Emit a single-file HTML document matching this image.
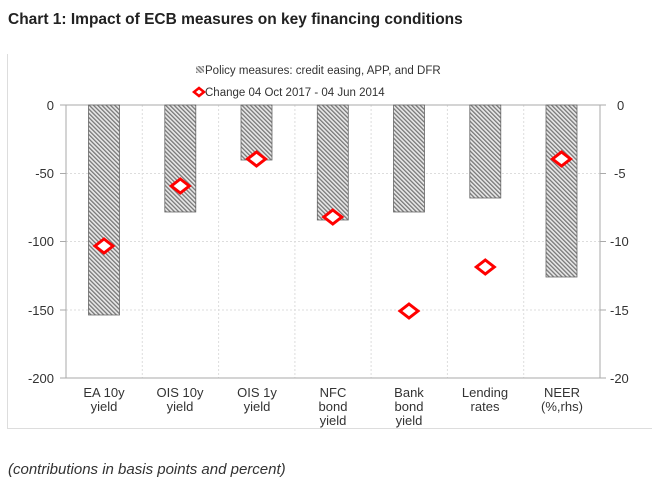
<!DOCTYPE html>
<html><head><style>
body{margin:0;background:#fff;width:652px;height:484px;overflow:hidden;font-family:"Liberation Sans",sans-serif}
</style></head><body>
<svg width="652" height="484" xmlns="http://www.w3.org/2000/svg" font-family="Liberation Sans, sans-serif">
<defs>
<pattern id="h" width="3" height="3" patternUnits="userSpaceOnUse" patternTransform="rotate(-45)">
<rect width="3" height="3" fill="#e8e8e8"/><rect width="1.3" height="3" fill="#777"/>
</pattern>
</defs>
<text x="8" y="24" font-size="15.5" font-weight="bold" fill="#222">Chart 1: Impact of ECB measures on key financing conditions</text>
<line x1="7.5" y1="54" x2="7.5" y2="428" stroke="#ddd"/>
<line x1="7" y1="428.5" x2="652" y2="428.5" stroke="#ddd"/>
<rect x="196" y="66" width="8" height="7" fill="url(#h)"/>
<text x="205" y="74" font-size="11.5" fill="#333">Policy measures: credit easing, APP, and DFR</text>
<polygon points="199,88 204,92 199,96 194,92" fill="#fff" stroke="red" stroke-width="2.5"/>
<text x="205" y="96" font-size="11.5" fill="#333">Change 04 Oct 2017 - 04 Jun 2014</text>
<g stroke="#ddd" stroke-dasharray="2,2">
<line x1="66" y1="173.5" x2="600" y2="173.5"/><line x1="66" y1="241.5" x2="600" y2="241.5"/><line x1="66" y1="310" x2="600" y2="310"/>
<line x1="142.3" y1="105" x2="142.3" y2="378"/><line x1="218.6" y1="105" x2="218.6" y2="378"/><line x1="294.9" y1="105" x2="294.9" y2="378"/><line x1="371.1" y1="105" x2="371.1" y2="378"/><line x1="447.4" y1="105" x2="447.4" y2="378"/><line x1="523.7" y1="105" x2="523.7" y2="378"/>
</g>
<g stroke="#aaa" stroke-width="1">
<line x1="66" y1="105" x2="600" y2="105"/>
<line x1="66" y1="105" x2="66" y2="378"/><line x1="600" y1="105" x2="600" y2="378"/><line x1="66" y1="378" x2="600" y2="378"/>
<line x1="60" y1="105" x2="66" y2="105"/><line x1="60" y1="173.5" x2="66" y2="173.5"/><line x1="60" y1="241.5" x2="66" y2="241.5"/><line x1="60" y1="310" x2="66" y2="310"/><line x1="60" y1="378" x2="66" y2="378"/>
<line x1="600" y1="105" x2="606" y2="105"/><line x1="600" y1="173.5" x2="606" y2="173.5"/><line x1="600" y1="241.5" x2="606" y2="241.5"/><line x1="600" y1="310" x2="606" y2="310"/><line x1="600" y1="378" x2="606" y2="378"/>
</g>
<g fill="url(#h)" stroke="#666" stroke-width="0.8">
<rect x="88.5" y="105" width="31" height="210"/>
<rect x="164.8" y="105" width="31" height="107"/>
<rect x="241" y="105" width="31" height="55"/>
<rect x="317.3" y="105" width="31" height="115"/>
<rect x="393.5" y="105" width="31" height="107"/>
<rect x="469.8" y="105" width="31" height="93"/>
<rect x="546" y="105" width="31" height="172"/>
</g>
<g fill="#fff" stroke="red" stroke-width="3">
<polygon points="104,239 113,246 104,253 95,246"/>
<polygon points="180.3,179 189.3,186 180.3,193 171.3,186"/>
<polygon points="256.5,152 265.5,159 256.5,166 247.5,159"/>
<polygon points="332.8,210 341.8,217 332.8,224 323.8,217"/>
<polygon points="409,304 418,311 409,318 400,311"/>
<polygon points="485.3,260 494.3,267 485.3,274 476.3,267"/>
<polygon points="561.5,152 570.5,159 561.5,166 552.5,159"/>
</g>
<g font-size="13" fill="#333" text-anchor="end">
<text x="54" y="110">0</text><text x="54" y="178">-50</text><text x="54" y="246">-100</text><text x="54" y="315">-150</text><text x="54" y="383">-200</text>
</g>
<g font-size="13" fill="#333">
<text x="617" y="110">0</text><text x="614" y="178">-5</text><text x="610" y="246">-10</text><text x="610" y="315">-15</text><text x="610" y="383">-20</text>
</g>
<g font-size="13" fill="#333" text-anchor="middle">
<text x="104" y="397">EA 10y</text><text x="104" y="411">yield</text>
<text x="180" y="397">OIS 10y</text><text x="180" y="411">yield</text>
<text x="257" y="397">OIS 1y</text><text x="257" y="411">yield</text>
<text x="333" y="397">NFC</text><text x="333" y="411">bond</text><text x="333" y="425">yield</text>
<text x="409" y="397">Bank</text><text x="409" y="411">bond</text><text x="409" y="425">yield</text>
<text x="485" y="397">Lending</text><text x="485" y="411">rates</text>
<text x="562" y="397">NEER</text><text x="562" y="411">(%,rhs)</text>
</g>
<text x="8" y="474" font-size="15" font-style="italic" fill="#333">(contributions in basis points and percent)</text>
</svg>
</body></html>
